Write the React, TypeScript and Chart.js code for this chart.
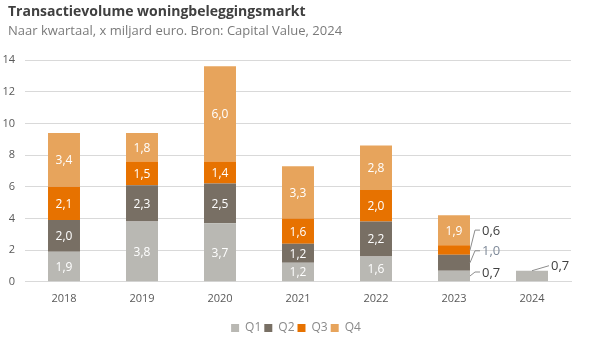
import React, { useEffect, useRef } from "react";
import { Chart, registerables } from "chart.js";

Chart.register(...registerables);

const years = ["2018", "2019", "2020", "2021", "2022", "2023", "2024"];
const q1 = [1.9, 3.8, 3.7, 1.2, 1.6, 0.7, 0.7];
const q2 = [2.0, 2.3, 2.5, 1.2, 2.2, 1.0, null];
const q3 = [2.1, 1.5, 1.4, 1.6, 2.0, 0.6, null];
const q4 = [3.4, 1.8, 6.0, 3.3, 2.8, 1.9, null];
const seriesNames = ["Q1", "Q2", "Q3", "Q4"];
const colors = ["#b9b8b3", "#786f64", "#e77200", "#e7a45c"];
const title = "Transactievolume woningbeleggingsmarkt";
const subtitle = "Naar kwartaal, x miljard euro. Bron: Capital Value, 2024";

// labels drawn outside the bar with a leader line: [dataset, index, dy of label, style]
const outside: [number, number, number, string][] = [
  [0, 5, -4, "side"],
  [1, 5, -12, "side"],
  [2, 5, -20, "side"],
  [0, 6, -5, "top"],
];

const FONT = "'Open Sans', sans-serif";

const fmt = (v: number) => v.toFixed(1).replace(".", ",");

const labelPlugin = {
  id: "barLabels",
  afterDatasetsDraw(chart: any) {
    const ctx = chart.ctx;
    ctx.save();
    ctx.font = `12px ${FONT}`;
    ctx.textBaseline = "middle";
    chart.data.datasets.forEach((ds: any, di: number) => {
      const meta = chart.getDatasetMeta(di);
      meta.data.forEach((bar: any, i: number) => {
        const v = ds.data[i];
        if (v == null) return;
        const o = outside.find((e) => e[0] === di && e[1] === i);
        const midY = (bar.y + bar.base) / 2;
        if (!o) {
          ctx.fillStyle = "#ffffff";
          ctx.textAlign = "center";
          ctx.fillText(fmt(v), bar.x, midY + 1);
          return;
        }
        const right = bar.x + bar.width / 2;
        ctx.strokeStyle = "#8c8c8c";
        ctx.lineWidth = 1;
        ctx.beginPath();
        let tx: number, ty: number;
        if (o[3] === "side") {
          ty = midY + o[2];
          ctx.moveTo(right, midY);
          ctx.lineTo(right + 5, ty);
          ctx.lineTo(right + 10, ty);
          tx = right + 12;
        } else {
          ty = bar.y + o[2];
          ctx.moveTo(bar.x, bar.y);
          ctx.lineTo(right + 1, ty);
          tx = right + 3;
        }
        ctx.stroke();
        ctx.fillStyle = di === 1 ? "#7f8a99" : "#404040";
        ctx.textAlign = "left";
        ctx.font = `13px ${FONT}`;
        ctx.fillText(fmt(v), tx, ty + 1);
        ctx.font = `12px ${FONT}`;
      });
    });
    ctx.restore();
  },
};

export default function App() {
  const ref = useRef<HTMLCanvasElement>(null);
  useEffect(() => {
    const datasets = [q1, q2, q3, q4].map((d, k) => ({
      label: seriesNames[k],
      data: d,
      backgroundColor: colors[k],
      borderWidth: 0,
      barPercentage: 0.41,
      categoryPercentage: 1,
    }));
    const chart = new Chart(ref.current!, {
      type: "bar",
      data: { labels: years, datasets },
      plugins: [labelPlugin],
      options: {
        responsive: false,
        animation: false,
        devicePixelRatio: 1,
        layout: { padding: { left: 0, right: 0, top: 60, bottom: 6 } },
        plugins: {
          tooltip: { enabled: false },
          title: { display: false },
          legend: {
            position: "bottom",
            labels: {
              boxWidth: 8,
              boxHeight: 8,
              color: "#8a8a8a",
              font: { family: FONT, size: 12 },
              padding: 3,
            },
          },
        },
        scales: {
          x: {
            stacked: true,
            grid: { display: false },
            border: { display: true, color: "#d9d9d9" },
            afterFit: (s: any) => {
              s.height += 12;
            },
            ticks: { color: "#595959", font: { family: FONT, size: 11 }, padding: 2 },
          },
          y: {
            stacked: true,
            min: 0,
            max: 14,
            border: { display: false },
            afterFit: (s: any) => {
              s.width = 25;
            },
            grid: {
              color: (c: any) => (c.tick && c.tick.value % 2 === 0 ? "#d9d9d9" : "#efefef"),
              drawTicks: false,
            },
            ticks: {
              stepSize: 1,
              color: "#595959",
              font: { family: FONT, size: 11 },
              padding: 10,
              callback: (v: any) => (v % 2 === 0 ? String(v) : ""),
            },
          },
          yRight: {
            position: "right",
            display: true,
            min: 0,
            max: 14,
            grid: { display: false },
            border: { display: false },
            ticks: { display: false },
            afterFit: (s: any) => {
              s.width = 21;
            },
          },
        },
      },
    });
    return () => chart.destroy();
  }, []);
  return (
    <div style={{ position: "absolute", left: 0, top: 0, width: 592, height: 350, background: "#fff" }}>
      <canvas ref={ref} width={592} height={350} style={{ display: "block" }} />
      <div
        style={{
          position: "absolute",
          left: 8,
          top: 2,
          fontFamily: FONT,
          fontSize: 14,
          fontWeight: "bold",
          color: "#404040",
          lineHeight: "18px",
          whiteSpace: "nowrap",
        }}
      >
        {title}
      </div>
      <div
        style={{
          position: "absolute",
          left: 8,
          top: 21,
          fontFamily: FONT,
          fontSize: 13,
          color: "#7a7a7a",
          lineHeight: "18px",
          whiteSpace: "nowrap",
        }}
      >
        {subtitle}
      </div>
    </div>
  );
}
